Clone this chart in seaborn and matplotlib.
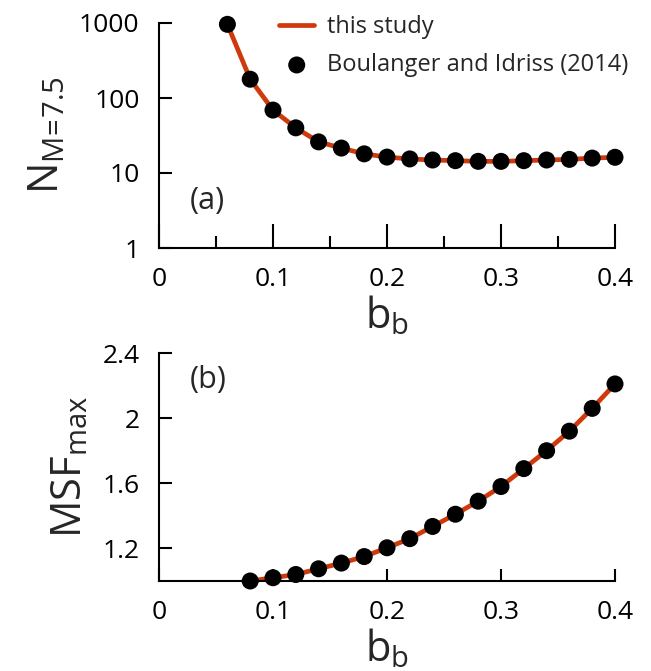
import matplotlib
matplotlib.use("Agg")
import matplotlib.pyplot as plt
import seaborn as sns
import pandas as pd
from matplotlib.ticker import FixedLocator, FixedFormatter, NullLocator

# ---- data -------------------------------------------------------------
bb_top = [0.06, 0.08, 0.10, 0.12, 0.14, 0.16, 0.18, 0.20, 0.22, 0.24,
          0.26, 0.28, 0.30, 0.32, 0.34, 0.36, 0.38, 0.40]
n_m75 = [960, 178, 69, 40, 26, 21.5, 18, 16.3, 15.4, 14.9,
         14.6, 14.3, 14.3, 14.6, 14.9, 15.2, 15.8, 16.2]

bb_bot = [0.08, 0.10, 0.12, 0.14, 0.16, 0.18, 0.20, 0.22, 0.24,
          0.26, 0.28, 0.30, 0.32, 0.34, 0.36, 0.38, 0.40]
msf_max = [1.00, 1.02, 1.04, 1.075, 1.11, 1.15, 1.204, 1.26, 1.335,
           1.41, 1.49, 1.58, 1.69, 1.80, 1.92, 2.06, 2.21]

x_ticks = [0, 0.1, 0.2, 0.3, 0.4]
x_ticklabels = ["0", "0.1", "0.2", "0.3", "0.4"]
y_ticks_top = [1, 10, 100, 1000]
y_ticklabels_top = ["1", "10", "100", "1000"]
y_ticks_bot = [1.2, 1.6, 2.0, 2.4]
y_ticklabels_bot = ["1.2", "1.6", "2", "2.4"]

legend_line = "this study"
legend_dots = "Boulanger and Idriss (2014)"

df_top = pd.DataFrame({"bb": bb_top, "val": n_m75})
df_bot = pd.DataFrame({"bb": bb_bot, "val": msf_max})

# ---- style ------------------------------------------------------------
sns.set_style("ticks")
FONT = "Open Sans"
plt.rcParams["font.family"] = [FONT, "DejaVu Sans"]
plt.rcParams["mathtext.fontset"] = "custom"
plt.rcParams["mathtext.rm"] = FONT
plt.rcParams["mathtext.it"] = FONT
plt.rcParams["mathtext.default"] = "rm"

LINE_COLOR = "#CF3A0C"
W, H = 651, 671
fig = plt.figure(figsize=(W / 100, H / 100), dpi=100)

ax_a = fig.add_axes([159 / W, 1 - 248 / H, 456 / W, 225 / H])
ax_b = fig.add_axes([159 / W, 1 - 581 / H, 456 / W, 228 / H])

for ax, df in ((ax_a, df_top), (ax_b, df_bot)):
    sns.lineplot(data=df, x="bb", y="val", ax=ax, color=LINE_COLOR,
                 linewidth=3.4, label=legend_line, zorder=2)
    sns.scatterplot(data=df, x="bb", y="val", ax=ax, color="black",
                    s=150, edgecolor="none", label=legend_dots,
                    zorder=3, clip_on=False)
    for ln in ax.lines:
        ln.set_clip_on(False)
    ax.set_xlim(0, 0.4)
    ax.xaxis.set_major_locator(FixedLocator(x_ticks))
    ax.xaxis.set_major_formatter(FixedFormatter(x_ticklabels))
    for side in ("top", "right"):
        ax.spines[side].set_visible(False)
    for side in ("left", "bottom"):
        ax.spines[side].set_linewidth(1.5)
        ax.spines[side].set_color("black")
    ax.tick_params(axis="both", which="both", direction="in",
                   colors="black", labelsize=19, width=1.5)
    ax.tick_params(axis="y", which="major", length=9, pad=14)
    ax.set_xlabel("b$_\\mathregular{b}$", fontsize=30, labelpad=1)

# panel (a): log-scale N
ax_a.set_yscale("log")
ax_a.set_ylim(1, 1000)
ax_a.yaxis.set_major_locator(FixedLocator(y_ticks_top))
ax_a.yaxis.set_major_formatter(FixedFormatter(y_ticklabels_top))
ax_a.yaxis.set_minor_locator(NullLocator())
ax_a.xaxis.set_minor_locator(FixedLocator([0.05, 0.15, 0.25, 0.35]))
ax_a.tick_params(axis="x", which="major", length=17, pad=14)
ax_a.tick_params(axis="x", which="minor", length=9)
ax_a.set_ylabel("N$_\\mathregular{M\\!=\\!7.5}$", fontsize=30, labelpad=8)
ax_a.text(0.027, 4.2, "(a)", fontsize=22, va="center", ha="left")

# panel (b): MSF_max
ax_b.set_ylim(1.0, 2.4)
ax_b.yaxis.set_major_locator(FixedLocator(y_ticks_bot))
ax_b.yaxis.set_major_formatter(FixedFormatter(y_ticklabels_bot))
ax_b.yaxis.set_minor_locator(NullLocator())
ax_b.xaxis.set_minor_locator(NullLocator())
ax_b.tick_params(axis="x", which="major", length=9, pad=14)
ax_b.set_ylabel("MSF$_\\mathregular{max}$", fontsize=30, labelpad=8)
ax_b.text(0.027, 2.234, "(b)", fontsize=22, va="center", ha="left")

# legend only on the top panel
handles, labels = ax_a.get_legend_handles_labels()
ax_b.get_legend().remove()
ax_a.get_legend().remove()
ax_a.legend(handles, labels, loc="upper left",
            bbox_to_anchor=(279 / W, 1 - 15 / H),
            bbox_transform=fig.transFigure, frameon=False, fontsize=17,
            handlelength=1.5, handletextpad=0.55, labelspacing=0.6,
            borderpad=0, borderaxespad=0, markerscale=1.0)

fig.savefig("out.png", dpi=100, facecolor="white")
